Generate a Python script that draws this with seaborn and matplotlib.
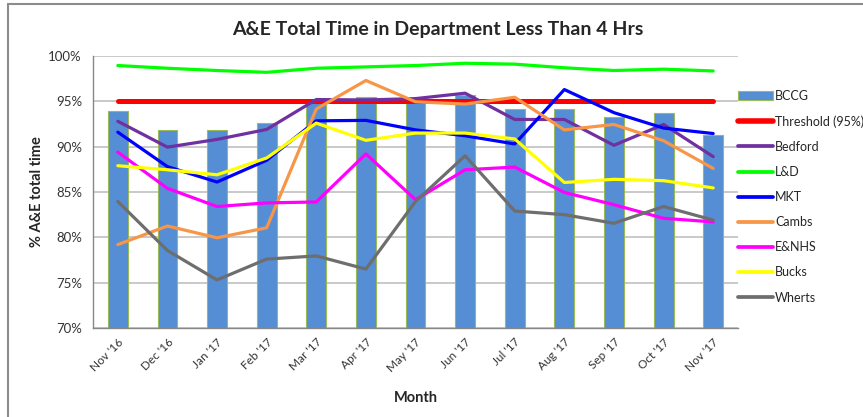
import numpy as np
import pandas as pd
import matplotlib
matplotlib.use('Agg')
import matplotlib.pyplot as plt
from matplotlib.lines import Line2D
from matplotlib.patches import Patch
import seaborn as sns

# Data
months = ["Nov '16", "Dec '16", "Jan '17", "Feb '17", "Mar '17", "Apr '17", "May '17",
          "Jun '17", "Jul '17", "Aug '17", "Sep '17", "Oct '17", "Nov '17"]
bccg = [93.9, 91.85, 91.85, 92.6, 95.2, 95.5, 94.9, 95.7, 94.15, 94.1, 93.3, 93.7, 91.3]
threshold = [95.0] * 13
bedford = [92.8, 89.95, 90.8, 91.9, 95.2, 95.15, 95.3, 95.9, 93.0, 93.0, 90.15, 92.45, 88.9]
lnd = [98.95, 98.65, 98.4, 98.2, 98.65, 98.8, 98.95, 99.2, 99.1, 98.7, 98.4, 98.55, 98.35]
mkt = [91.6, 87.8, 86.1, 88.5, 92.85, 92.9, 91.85, 91.2, 90.3, 96.3, 93.75, 92.05, 91.45]
cambs = [79.2, 81.25, 79.95, 81.05, 94.15, 97.3, 94.95, 94.7, 95.45, 91.85, 92.45, 90.65, 87.6]
enhs = [89.4, 85.4, 83.4, 83.8, 83.9, 89.2, 84.15, 87.45, 87.75, 84.95, 83.6, 82.1, 81.7]
bucks = [87.9, 87.45, 86.9, 88.75, 92.6, 90.7, 91.5, 91.5, 90.85, 86.05, 86.4, 86.25, 85.45]
wherts = [83.95, 78.55, 75.3, 77.6, 77.95, 76.5, 83.95, 89.0, 82.9, 82.5, 81.55, 83.4, 81.9]

series = {
    'Threshold (95%)': threshold,
    'Bedford': bedford,
    'L&D': lnd,
    'MKT': mkt,
    'Cambs': cambs,
    'E&NHS': enhs,
    'Bucks': bucks,
    'Wherts': wherts,
}
colors = {
    'Threshold (95%)': '#FF0000',
    'Bedford': '#7030A0',
    'L&D': '#00FF00',
    'MKT': '#0000FF',
    'Cambs': '#F79646',
    'E&NHS': '#FF00FF',
    'Bucks': '#FFFF00',
    'Wherts': '#6E6E6E',
}
widths = {k: 2.3 for k in series}
widths['Threshold (95%)'] = 3.6

sns.set_style('white')
plt.rcParams['font.family'] = ['Lato', 'DejaVu Sans']

fig = plt.figure(figsize=(8.63, 4.17), dpi=100)
ax = fig.add_axes([93 / 863, 1 - 328 / 417, (738 - 93) / 863, (328 - 56) / 417])

# bars
bar_df = pd.DataFrame({'Month': months, 'BCCG': bccg})
sns.barplot(data=bar_df, x='Month', y='BCCG', color='#558ED5', width=0.4,
            edgecolor='#9BBB59', linewidth=0.8, saturation=1, ax=ax, zorder=2)

# lines
idx = np.arange(len(months))
long_df = pd.concat([pd.DataFrame({'x': idx, 'value': v, 'series': k})
                     for k, v in series.items()], ignore_index=True)
for k in series:
    sns.lineplot(data=long_df[long_df['series'] == k], x='x', y='value',
                 color=colors[k], linewidth=widths[k], ax=ax, zorder=3,
                 solid_capstyle='round', legend=False)

ax.set_xlim(-0.5, len(months) - 0.5)
ax.set_ylim(70, 100)
ax.set_yticks(np.arange(70, 101, 5))
ax.set_yticklabels([f'{v}%' for v in range(70, 101, 5)], fontsize=9.5, color='#333333')
ax.set_xticks(idx)
ax.set_xticklabels(months, rotation=45, ha='right', rotation_mode='anchor',
                   fontsize=8.5, color='#333333')
ax.set_xticks(np.arange(-0.5, len(months), 1), minor=True)
ax.tick_params(axis='x', which='major', length=0, pad=6)
ax.tick_params(axis='x', which='minor', length=4, color='#888888', direction='out')
ax.tick_params(axis='y', length=5, color='#888888', direction='out', pad=3)
ax.grid(axis='y', color='#C0C0C0', linewidth=1.2, zorder=0)
ax.set_axisbelow(True)
for s in ['top', 'right']:
    ax.spines[s].set_visible(False)
for s in ['left', 'bottom']:
    ax.spines[s].set_color('#888888')
    ax.spines[s].set_linewidth(1.0)

ax.set_xlabel('Month', fontsize=10.5, fontweight='bold', labelpad=12)
ax.set_ylabel('% A&E total time', fontsize=10.5, fontweight='bold', labelpad=3)
fig.text(438 / 863, 1 - 30 / 417, 'A&E Total Time in Department Less Than 4 Hrs',
         ha='center', va='center', fontsize=14, fontweight='bold')

# legend
handles = [Patch(facecolor='#558ED5', edgecolor='#9BBB59', linewidth=0.8)]
labels = ['BCCG']
for k in series:
    handles.append(Line2D([0], [0], color=colors[k], linewidth=widths[k] + 0.4,
                          solid_capstyle='round'))
    labels.append(k)
fig.legend(handles, labels, loc='upper left', bbox_to_anchor=(738 / 863, 1 - 90 / 417),
           frameon=False, fontsize=9, handlelength=2.8, handletextpad=0.15,
           labelspacing=1.05, borderaxespad=0, borderpad=0)

# chart border (left and top edges)
fig.add_artist(Line2D([8 / 863, 8 / 863], [0, 1 - 4 / 417], color='#8C8C8C',
                      linewidth=1.5, transform=fig.transFigure))
fig.add_artist(Line2D([8 / 863, 1], [1 - 4 / 417, 1 - 4 / 417], color='#8C8C8C',
                      linewidth=1.5, transform=fig.transFigure))

fig.savefig('out.png', dpi=100)
